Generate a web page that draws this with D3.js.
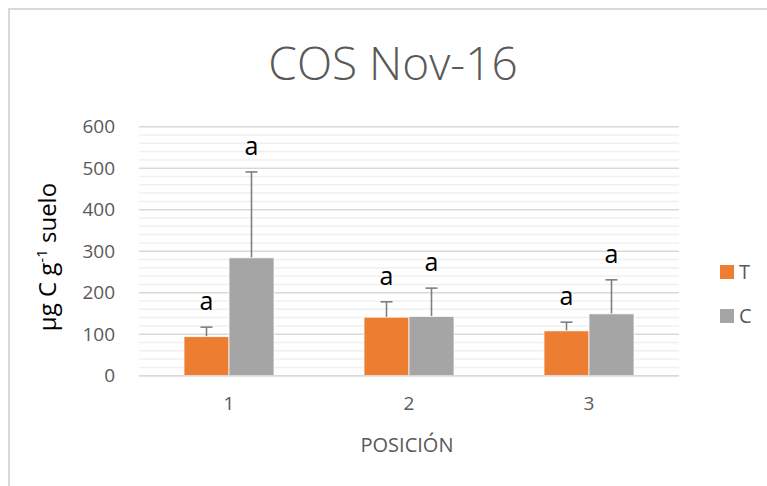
<!DOCTYPE html>
<html>
<head>
<meta charset="utf-8">
<script src="https://cdn.jsdelivr.net/npm/d3@7"></script>
<style>
  body { margin: 0; background: #fff; }
  text { font-family: "Open Sans", sans-serif; }
</style>
</head>
<body>
<svg id="chart" width="767" height="486"></svg>
<script>
var categories = ["1", "2", "3"];
var seriesNames = ["T", "C"];
var seriesColors = ["#ED7D31", "#A5A5A5"];
var tMeans = [94, 141, 108];
var cMeans = [284, 143, 149];
var tErrors = [23, 37, 21];
var cErrors = [207, 68, 82];
var tLetters = ["a", "a", "a"];
var cLetters = ["a", "a", "a"];
var yTicks = [0, 100, 200, 300, 400, 500, 600];

var svg = d3.select("#chart"),
    width = +svg.attr("width"),
    height = +svg.attr("height");

var plot = { left: 139, right: 679, top: 126.7, bottom: 375.7 };

// chart area border (only top/left are in frame)
svg.append("rect")
    .attr("x", 9).attr("y", 9)
    .attr("width", 820).attr("height", 520)
    .attr("fill", "#fff")
    .attr("stroke", "#d9d9d9")
    .attr("stroke-width", 2);

var x = d3.scaleBand()
    .domain(categories)
    .range([plot.left, plot.right]);

var xSeries = d3.scaleBand()
    .domain(seriesNames)
    .range([x.bandwidth() / 4, x.bandwidth() * 3 / 4]);

var y = d3.scaleLinear()
    .domain([0, 600])
    .range([plot.bottom, plot.top]);

// minor gridlines
svg.append("g")
    .selectAll("line")
    .data(d3.range(0, 601, 20).filter(function(v) { return v % 100 !== 0; }))
    .enter().append("line")
    .attr("x1", plot.left).attr("x2", plot.right)
    .attr("y1", function(d) { return y(d); })
    .attr("y2", function(d) { return y(d); })
    .attr("stroke", "#f0f0f0")
    .attr("stroke-width", 1.5);

// major gridlines
svg.append("g")
    .selectAll("line")
    .data(yTicks)
    .enter().append("line")
    .attr("x1", plot.left).attr("x2", plot.right)
    .attr("y1", function(d) { return y(d); })
    .attr("y2", function(d) { return y(d); })
    .attr("stroke", "#d9d9d9")
    .attr("stroke-width", 1.5);

// y axis labels
var yAxis = svg.append("g")
    .attr("transform", "translate(" + (plot.left - 24) + ",0)")
    .call(d3.axisLeft(y).tickValues(yTicks).tickSize(0).tickPadding(0));
yAxis.select(".domain").remove();
yAxis.selectAll("text")
    .attr("fill", "#595959")
    .style("font-size", "19px")
    .style("font-family", "'Open Sans', sans-serif");

// x axis labels
var xAxis = svg.append("g")
    .attr("transform", "translate(0," + plot.bottom + ")")
    .call(d3.axisBottom(x).tickSize(0).tickPadding(21));
xAxis.select(".domain").remove();
xAxis.selectAll("text")
    .attr("fill", "#595959")
    .style("font-size", "19px")
    .style("font-family", "'Open Sans', sans-serif");

var rows = categories.map(function(c, i) {
    return [
        { cat: c, s: "T", v: tMeans[i], e: tErrors[i], l: tLetters[i], color: seriesColors[0] },
        { cat: c, s: "C", v: cMeans[i], e: cErrors[i], l: cLetters[i], color: seriesColors[1] }
    ];
});
var flat = [].concat.apply([], rows);

var groups = svg.append("g").selectAll("g")
    .data(flat)
    .enter().append("g")
    .attr("transform", function(d) { return "translate(" + (x(d.cat) + xSeries(d.s)) + ",0)"; });

var bw = xSeries.bandwidth();

// error bars (drawn behind the bar so only the upper part shows)
groups.append("line")
    .attr("x1", bw / 2).attr("x2", bw / 2)
    .attr("y1", function(d) { return y(d.v); })
    .attr("y2", function(d) { return y(d.v + d.e); })
    .attr("stroke", "#7f7f7f")
    .attr("stroke-width", 1.6);
groups.append("line")
    .attr("x1", bw / 2 - 6).attr("x2", bw / 2 + 6)
    .attr("y1", function(d) { return y(d.v + d.e); })
    .attr("y2", function(d) { return y(d.v + d.e); })
    .attr("stroke", "#7f7f7f")
    .attr("stroke-width", 1.6);

groups.append("rect")
    .attr("x", 0)
    .attr("width", bw)
    .attr("y", function(d) { return y(d.v); })
    .attr("height", function(d) { return y(0) - y(d.v); })
    .attr("fill", function(d) { return d.color; })
    .attr("stroke", "#fff")
    .attr("stroke-width", 0.75);

// significance letters
groups.append("text")
    .attr("x", bw / 2)
    .attr("y", function(d) { return y(d.v + d.e) - 17; })
    .attr("text-anchor", "middle")
    .attr("fill", "#000")
    .style("font-size", "25px")
    .text(function(d) { return d.l; });

// baseline
svg.append("line")
    .attr("x1", plot.left).attr("x2", plot.right)
    .attr("y1", y(0)).attr("y2", y(0))
    .attr("stroke", "#d9d9d9")
    .attr("stroke-width", 1.5);

// title
svg.append("text")
    .attr("x", 393).attr("y", 80)
    .attr("text-anchor", "middle")
    .attr("fill", "#595959")
    .style("font-size", "46px")
    .style("font-weight", 300)
    .text("COS Nov-16");

// axis titles
var yTitle = svg.append("text")
    .attr("transform", "translate(56,257) rotate(-90)")
    .attr("text-anchor", "middle")
    .attr("fill", "#000")
    .style("font-size", "24px");
yTitle.append("tspan").text("µg C g");
yTitle.append("tspan").attr("dy", -9).style("font-size", "15px").text("-1");
yTitle.append("tspan").attr("dy", 9).text(" suelo");

svg.append("text")
    .attr("x", 407).attr("y", 452)
    .attr("text-anchor", "middle")
    .attr("fill", "#595959")
    .style("font-size", "20px")
    .text("POSICIÓN");

// legend
var legend = svg.append("g").selectAll("g")
    .data(seriesNames)
    .enter().append("g")
    .attr("transform", function(d, i) { return "translate(720," + (265 + i * 44) + ")"; });
legend.append("rect")
    .attr("width", 14).attr("height", 14)
    .attr("fill", function(d, i) { return seriesColors[i]; });
legend.append("text")
    .attr("x", 19).attr("y", 14)
    .attr("fill", "#595959")
    .style("font-size", "20px")
    .text(function(d) { return d; });
</script>
</body>
</html>
